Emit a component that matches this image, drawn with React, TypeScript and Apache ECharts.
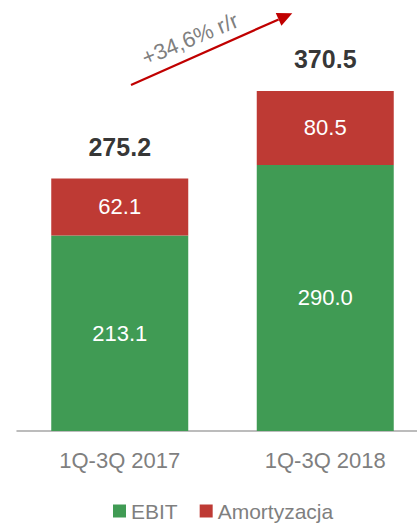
import React, { useEffect, useRef } from "react";
import * as echarts from "echarts";

const categories = ["1Q-3Q 2017", "1Q-3Q 2018"];
const ebit = [213.1, 290.0];
const amortyzacja = [62.1, 80.5];
const totals = [275.2, 370.5];
const changeLabel = "+34,6% r/r";

const GREEN = "#409b54";
const RED = "#be3a34";
const GREY = "#7f7f7f";
const FONT = "'Liberation Sans', Arial, sans-serif";

export default function App() {
  const ref = useRef<HTMLDivElement>(null);
  useEffect(() => {
    if (!ref.current) return;
    const chart = echarts.init(ref.current, undefined, { renderer: "svg" });
    const x0 = 131, y0 = 85, tx = 292.3, ty = 13.3;
    const dx = tx - x0, dy = ty - y0;
    const len = Math.sqrt(dx * dx + dy * dy);
    const ux = dx / len, uy = dy / len;
    const nx = -uy, ny = ux;
    const hl = 15, hw = 7;
    const bx = tx - hl * ux, by = ty - hl * uy;
    const angle = Math.atan2(-dy, dx);
    chart.setOption({
      animation: false,
      textStyle: { fontFamily: FONT },
      grid: { left: 17, width: 411, top: 64, bottom: 92, containLabel: false, outerBoundsMode: "none" },
      legend: {
        data: ["EBIT", "Amortyzacja"],
        left: 113,
        top: 500,
        icon: "rect",
        itemWidth: 13,
        itemHeight: 13,
        itemGap: 22,
        padding: 0,
        textStyle: { color: GREY, fontSize: 21, lineHeight: 22, fontFamily: FONT },
      },
      xAxis: {
        type: "category",
        data: categories,
        axisLine: { lineStyle: { color: "#a6a6a6", width: 1.5 } },
        axisTick: { show: false },
        axisLabel: { color: GREY, fontSize: 22, margin: 18, fontFamily: FONT },
      },
      yAxis: { type: "value", min: 0, max: 400, show: false, splitLine: { show: false } },
      series: [
        {
          name: "EBIT",
          type: "bar",
          stack: "s",
          barWidth: 137,
          data: ebit,
          itemStyle: { color: GREEN },
          label: { show: true, position: "inside", color: "#fff", fontSize: 22, formatter: (p: any) => p.value.toFixed(1) },
        },
        {
          name: "Amortyzacja",
          type: "bar",
          stack: "s",
          barWidth: 137,
          data: amortyzacja,
          itemStyle: { color: RED },
          label: { show: true, position: "inside", color: "#fff", fontSize: 22, formatter: (p: any) => p.value.toFixed(1) },
        },
        {
          name: "Suma",
          type: "scatter",
          data: totals,
          symbolSize: 1,
          itemStyle: { color: "rgba(0,0,0,0)" },
          label: {
            show: true,
            position: "top",
            distance: 19,
            color: "#000",
            fontSize: 25,
            fontWeight: "bold",
            formatter: (p: any) => p.value.toFixed(1),
          },
        },
      ],
      graphic: [
        {
          type: "line",
          shape: { x1: x0, y1: y0, x2: bx, y2: by },
          style: { stroke: "#c00000", lineWidth: 2.2 },
        },
        {
          type: "polygon",
          shape: {
            points: [
              [tx, ty],
              [bx + hw * nx, by + hw * ny],
              [bx - hw * nx, by - hw * ny],
            ],
          },
          style: { fill: "#c00000" },
        },
        {
          type: "text",
          x: 190,
          y: 39,
          rotation: angle - 0.02,
          style: {
            text: changeLabel,
            fill: GREY,
            fontSize: 22,
            fontFamily: FONT,
            align: "center",
            verticalAlign: "middle",
          },
        },
      ],
    });
    return () => chart.dispose();
  }, []);
  return <div ref={ref} style={{ width: 417, height: 523, position: "absolute", left: 0, top: 0 }} />;
}
